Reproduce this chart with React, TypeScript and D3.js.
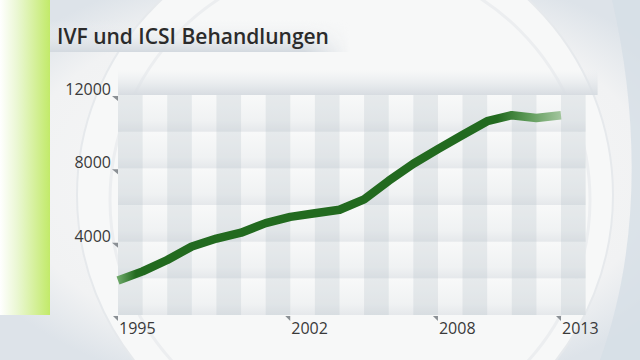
import { useEffect, useRef } from 'react';
import * as d3 from 'd3';

const years = [1995, 1996, 1997, 1998, 1999, 2000, 2001, 2002, 2003, 2004, 2005, 2006, 2007, 2008, 2009, 2010, 2011, 2012, 2013];
const treatments = [1880, 2380, 3000, 3740, 4170, 4490, 5010, 5350, 5550, 5740, 6310, 7320, 8250, 9050, 9820, 10570, 10900, 10750, 10890];
const yTicks = [4000, 8000, 12000];
const xTicks = [1995, 2002, 2008, 2013];
const rowSteps = [0, 2000, 4000, 6000, 8000, 10000];
const title = 'IVF und ICSI Behandlungen';

export default function App() {
  const svgRef = useRef<SVGSVGElement>(null);

  useEffect(() => {
    const width = 640;
    const height = 360;
    const svg = d3.select(svgRef.current).attr('width', width).attr('height', height);
    svg.selectAll('*').remove();

    const x = d3.scaleLinear().domain([1995, 2013]).range([118, 561]);
    const y = d3.scaleLinear().domain([0, 12000]).range([315, 95]);
    const step = x(1996) - x(1995);

    const defs = svg.append('defs');

    // fond
    const bgGrad = defs.append('radialGradient').attr('id', 'bg').attr('cx', '0.52').attr('cy', '0.5').attr('r', '0.62');
    bgGrad.append('stop').attr('offset', '0').attr('stop-color', '#fafafa');
    bgGrad.append('stop').attr('offset', '0.8').attr('stop-color', '#f1f2f3');
    bgGrad.append('stop').attr('offset', '1').attr('stop-color', '#dde3e9');
    svg.append('rect').attr('width', width).attr('height', height).attr('fill', 'url(#bg)');

    // grands arcs décoratifs
    svg.append('circle').attr('cx', 345).attr('cy', 195).attr('r', 268)
      .attr('fill', '#f7f8f8').attr('stroke', '#e6e9ec').attr('stroke-width', 2);
    svg.append('circle').attr('cx', 350).attr('cy', 200).attr('r', 240)
      .attr('fill', 'none').attr('stroke', '#eceef0').attr('stroke-width', 3);
    svg.append('path')
      .attr('d', 'M612,0 C640,120 640,250 600,360 L640,360 L640,0 Z')
      .attr('fill', '#d6dee6').attr('opacity', 0.8);

    // barre verte à gauche
    const greenGrad = defs.append('linearGradient').attr('id', 'green');
    greenGrad.append('stop').attr('offset', '0').attr('stop-color', '#ffffff');
    greenGrad.append('stop').attr('offset', '0.35').attr('stop-color', '#eaf7d2');
    greenGrad.append('stop').attr('offset', '1').attr('stop-color', '#c2ea69');
    svg.append('rect').attr('x', 0).attr('y', 0).attr('width', 50).attr('height', 315).attr('fill', 'url(#green)');

    // bandeau du titre
    const titleGrad = defs.append('linearGradient').attr('id', 'titlebg').attr('x1', 0).attr('y1', 0).attr('x2', 0).attr('y2', 1);
    titleGrad.append('stop').attr('offset', '0').attr('stop-color', '#f4f5f6').attr('stop-opacity', 0);
    titleGrad.append('stop').attr('offset', '1').attr('stop-color', '#d3d9df');
    const titleFade = defs.append('linearGradient').attr('id', 'titlefade');
    titleFade.append('stop').attr('offset', '0').attr('stop-color', '#fff').attr('stop-opacity', 1);
    titleFade.append('stop').attr('offset', '0.85').attr('stop-color', '#fff').attr('stop-opacity', 1);
    titleFade.append('stop').attr('offset', '1').attr('stop-color', '#fff').attr('stop-opacity', 0);
    defs.append('mask').attr('id', 'titlemask').append('rect')
      .attr('x', 50).attr('y', 20).attr('width', 300).attr('height', 32).attr('fill', 'url(#titlefade)');
    svg.append('rect').attr('x', 50).attr('y', 20).attr('width', 300).attr('height', 32)
      .attr('fill', 'url(#titlebg)').attr('mask', 'url(#titlemask)');
    svg.append('text').attr('x', 57).attr('y', 44).text(title)
      .attr('font-family', 'Open Sans').attr('font-weight', 600).attr('font-size', 21).attr('fill', '#2b2b2b');

    // zone du graphe : bande haute
    const topGrad = defs.append('linearGradient').attr('id', 'topband').attr('x1', 0).attr('y1', 0).attr('x2', 0).attr('y2', 1);
    topGrad.append('stop').attr('offset', '0').attr('stop-color', '#e4e8ec').attr('stop-opacity', 0);
    topGrad.append('stop').attr('offset', '1').attr('stop-color', '#d7dce1');
    svg.append('rect').attr('x', x(1995)).attr('y', 70).attr('width', x(2014) - x(1995) + 12).attr('height', y(12000) - 70)
      .attr('fill', 'url(#topband)');

    // lignes horizontales (dégradé par rangée)
    const rowGrad = defs.append('linearGradient').attr('id', 'row').attr('x1', 0).attr('y1', 0).attr('x2', 0).attr('y2', 1);
    rowGrad.append('stop').attr('offset', '0').attr('stop-color', '#f8f9f9');
    rowGrad.append('stop').attr('offset', '0.7').attr('stop-color', '#f0f2f3');
    rowGrad.append('stop').attr('offset', '1').attr('stop-color', '#e5e8eb');
    svg.append('g').selectAll('rect').data(rowSteps).join('rect')
      .attr('x', x(1995)).attr('y', d => y(d + 2000))
      .attr('width', x(2014) - x(1995)).attr('height', d => y(d) - y(d + 2000))
      .attr('fill', 'url(#row)');

    // bandes verticales grises
    svg.append('g').selectAll('rect').data(years.filter((_, i) => i % 2 === 0)).join('rect')
      .attr('x', d => x(d)).attr('y', y(12000))
      .attr('width', step).attr('height', y(0) - y(12000))
      .attr('fill', '#aab4bd').attr('opacity', 0.22);

    // courbe
    const lineGrad = defs.append('linearGradient').attr('id', 'linegrad').attr('gradientUnits', 'userSpaceOnUse')
      .attr('x1', x(1995)).attr('x2', x(2013) + 3).attr('y1', 0).attr('y2', 0);
    [[0, '#6da868'], [0.04, '#226a1f'], [0.85, '#226a1f'], [0.92, '#5d9a58'], [1, '#a9c9a4']].forEach(([o, c]) => {
      lineGrad.append('stop').attr('offset', o).attr('stop-color', c);
    });
    const data = years.map((yr, i) => [yr, treatments[i]] as [number, number]);
    const line = d3.line<[number, number]>().x(d => x(d[0])).y(d => y(d[1]));
    svg.append('path').datum(data)
      .attr('fill', 'none').attr('stroke', 'url(#linegrad)').attr('stroke-width', 8.5)
      .attr('stroke-linejoin', 'round').attr('d', line);

    // axe y
    const yAxis = svg.append('g');
    yAxis.selectAll('path').data(yTicks).join('path')
      .attr('d', d => `M${x(1995) - 6},${y(d) + 1} L${x(1995)},${y(d) + 1} L${x(1995)},${y(d) + 6} Z`)
      .attr('fill', '#8a8f94');
    yAxis.selectAll('text').data(yTicks).join('text')
      .attr('x', x(1995) - 7).attr('y', d => y(d)).attr('text-anchor', 'end')
      .attr('font-family', 'Open Sans').attr('font-size', 16).attr('fill', '#3a3a3a')
      .text(d => d);

    // axe x
    const xAxis = svg.append('g');
    xAxis.selectAll('path').data(xTicks).join('path')
      .attr('d', d => `M${x(d) - 5},${y(0) + 1} L${x(d)},${y(0) + 1} L${x(d)},${y(0) + 6} Z`)
      .attr('fill', '#8a8f94');
    xAxis.selectAll('text').data(xTicks).join('text')
      .attr('x', d => x(d) + 1).attr('y', 334)
      .attr('font-family', 'Open Sans').attr('font-size', 16).attr('fill', '#3a3a3a')
      .text(d => d);
  }, []);

  return (
    <svg ref={svgRef} style={{ position: 'absolute', left: 0, top: 0, display: 'block' }}></svg>
  );
}
